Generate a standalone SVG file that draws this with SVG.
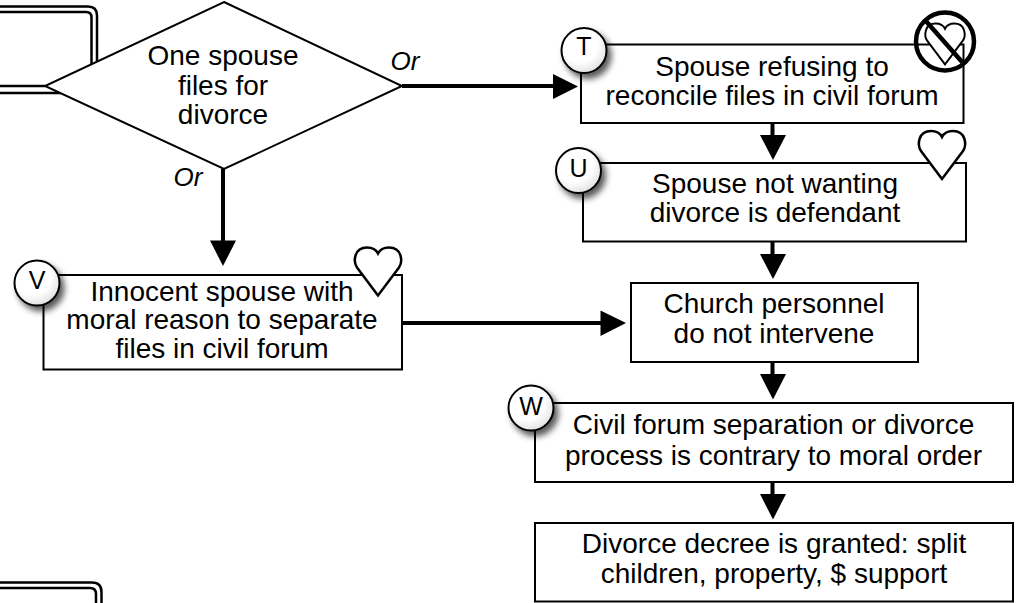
<svg xmlns="http://www.w3.org/2000/svg" width="1021" height="603" viewBox="0 0 1021 603">
<style>
.b{fill:#fff;stroke:#000;stroke-width:2}
.t{font-family:"Liberation Sans",Arial,sans-serif;font-size:28px;text-anchor:middle;fill:#000}
.o{font-family:"Liberation Sans",Arial,sans-serif;font-size:26px;font-style:italic;text-anchor:middle;fill:#000}
.l{font-family:"Liberation Sans",Arial,sans-serif;font-size:25px;text-anchor:middle;fill:#000}
.c{fill:url(#g);stroke:#000;stroke-width:2;filter:url(#s)}
.h{fill:#fff;stroke:#000;stroke-width:2.500;stroke-linejoin:miter}
.e{fill:none;stroke:#000;stroke-width:4}
.d{fill:none;stroke:#000;stroke-width:2.500}
.a{fill:#000;stroke:none}
</style>
<defs>
<radialGradient id="g" cx="0.4" cy="0.35" r="0.75"><stop offset="0.55" stop-color="#fff"/><stop offset="1" stop-color="#d8d8d8"/></radialGradient>
<filter id="s" x="-30%" y="-30%" width="170%" height="170%"><feDropShadow dx="4" dy="5" stdDeviation="3" flood-color="#000" flood-opacity="0.65"/></filter>
<path id="heart" d="M0 24L-21 -4C-25 -10 -24 -24 -11 -24C-6 -24 -2 -22 0 -18C2 -22 6 -24 11 -24C24 -24 25 -10 21 -4Z"/>
</defs>
<g id="offpage-top" class="d">
<path d="M0 6.500H88Q97 6.500 97 15.500V66"/><path d="M0 12H86Q91.500 12 91.500 17.500V66"/>
<path d="M0 86H45M0 93H62"/>
</g>
<g id="offpage-bottom" class="d">
<path d="M0 582.500H92Q101.500 582.500 101.500 592V603"/><path d="M0 588H90Q96 588 96 594V603"/>
</g>
<g id="connectors">
<path class="e" d="M402 86H560M223 169V243M402 323H604M772.500 123V137M772.500 241V256M772.500 362V376M772.500 482V496"/>
<polygon class="a" points="553,74 553,99 578,86.500"/>
<polygon class="a" points="210,240.500 236,240.500 223,266"/>
<polygon class="a" points="600.500,310.500 600.500,336 626,323"/>
<polygon class="a" points="760,135 786,135 773,160"/>
<polygon class="a" points="760,254 786,254 773,279"/>
<polygon class="a" points="760,374 786,374 773,399.500"/>
<polygon class="a" points="760,494 786,494 773,519.500"/>
</g>
<g id="decision"><polygon class="b" points="224,2 402,86 224,169 45,86"/>
<text class="t" x="223" y="65">One spouse</text><text class="t" x="223" y="95">files for</text><text class="t" x="223" y="124">divorce</text></g>
<text class="o" x="405" y="70">Or</text>
<text class="o" x="188" y="186">Or</text>
<g id="node-t"><rect class="b" x="581" y="44.500" width="382.500" height="78.500"/>
<text class="t" x="772" y="76">Spouse refusing to</text><text class="t" x="772" y="105">reconcile files in civil forum</text>
<g transform="translate(945,44)"><use href="#heart" class="h" transform="scale(0.85)" style="stroke-width:2.300"/><circle cy="-2.500" r="29" fill="none" stroke="#000" stroke-width="4.500"/><path d="M-20 -24L18 19" stroke="#000" stroke-width="4.500"/></g>
<circle class="c" cx="584" cy="50.500" r="22.500"/><text class="l" x="584" y="55">T</text></g>
<g id="node-u"><rect class="b" x="583" y="163" width="383" height="78.500"/>
<text class="t" x="775" y="193">Spouse not wanting</text><text class="t" x="775" y="222">divorce is defendant</text>
<use href="#heart" class="h" x="942" y="155"/>
<circle class="c" cx="578.500" cy="170.500" r="22.500"/><text class="l" x="578.500" y="177">U</text></g>
<g id="node-v"><rect class="b" x="43.500" y="275" width="358.500" height="94.500"/>
<text class="t" x="222" y="300.500">Innocent spouse with</text><text class="t" x="222" y="329">moral reason to separate</text><text class="t" x="222" y="358">files in civil forum</text>
<use href="#heart" class="h" x="378" y="271.500"/>
<circle class="c" cx="37" cy="283" r="22.500"/><text class="l" x="37" y="289">V</text></g>
<g id="node-church"><rect class="b" x="631" y="283" width="287" height="79"/>
<text class="t" x="774" y="313">Church personnel</text><text class="t" x="774" y="343">do not intervene</text></g>
<g id="node-w"><rect class="b" x="535" y="403" width="478" height="79"/>
<text class="t" x="773.500" y="433.500">Civil forum separation or divorce</text><text class="t" x="773.500" y="464.500">process is contrary to moral order</text>
<circle class="c" cx="531" cy="408" r="22.500"/><text class="l" x="531" y="415">W</text></g>
<g id="node-decree"><rect class="b" x="535" y="523" width="478" height="78.500"/>
<text class="t" x="774" y="553">Divorce decree is granted: split</text><text class="t" x="774" y="583">children, property, $ support</text></g>
</svg>
